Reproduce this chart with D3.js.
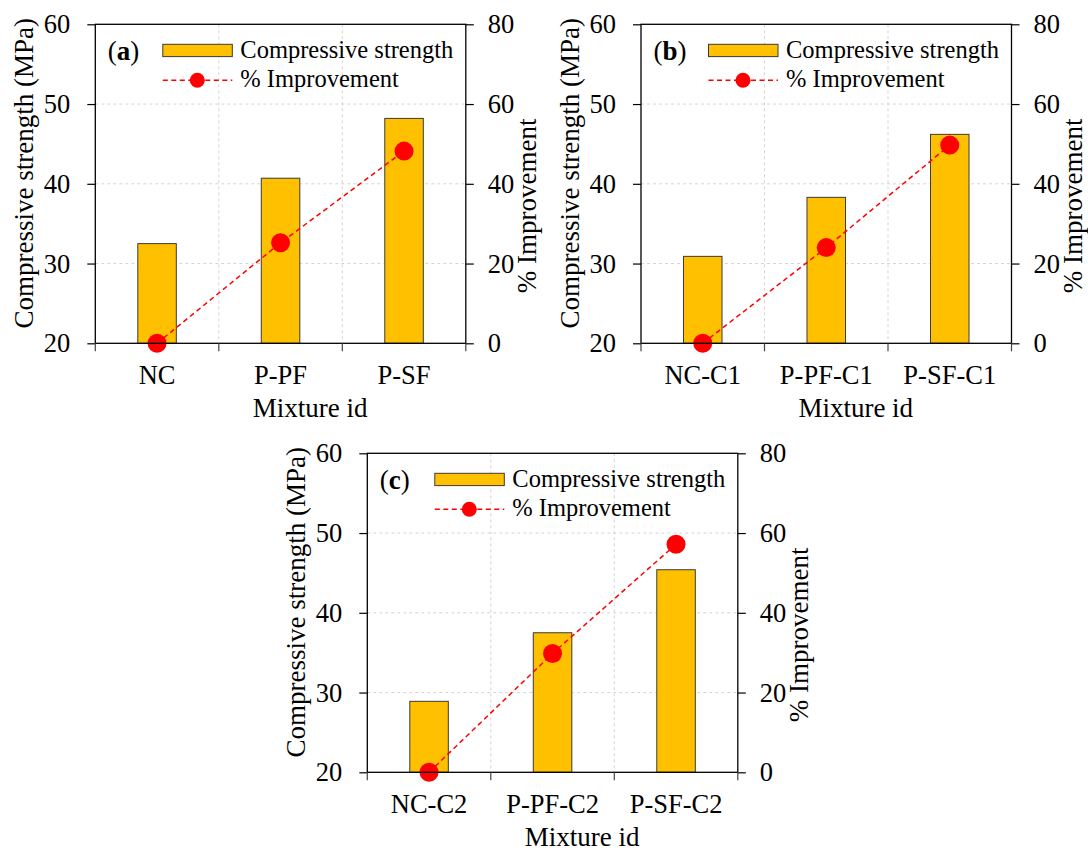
<!DOCTYPE html>
<html>
<head>
<meta charset="utf-8">
<script src="https://cdn.jsdelivr.net/npm/d3@7/dist/d3.min.js"></script>
<style>
  html, body { margin: 0; padding: 0; background: #ffffff; }
  svg { display: block; }
  svg text { font-family: 'Liberation Serif', 'Times New Roman', Times, serif; fill: #000; }
</style>
</head>
<body>
<svg id="chart" width="1088" height="852" font-family="Liberation Serif, Times New Roman, serif"></svg>
<script>
// ---- data ----
const categoriesA = ["NC", "P-PF", "P-SF"];
const strengthA = [32.5, 40.7, 48.2];
const improvementA = [0, 25.2, 48.2];

const categoriesB = ["NC-C1", "P-PF-C1", "P-SF-C1"];
const strengthB = [30.9, 38.3, 46.2];
const improvementB = [0, 24.0, 49.7];

const categoriesC = ["NC-C2", "P-PF-C2", "P-SF-C2"];
const strengthC = [28.9, 37.5, 45.4];
const improvementC = [0, 29.8, 57.2];

const strengthTicks = [20, 30, 40, 50, 60];
const improvementTicks = [0, 20, 40, 60, 80];
const panelTags = ["a", "b", "c"];

const leftTitle = "Compressive strength (MPa)";
const rightTitle = "% Improvement";
const xTitle = "Mixture id";
const legendBar = "Compressive strength";
const legendLine = "% Improvement";

// ---- layout & style ----
const W = 370.5, H = 319;
const panelOrigins = [
  { left: 95.3, top: 24.3 },
  { left: 641, top: 24.3 },
  { left: 367.3, top: 453.3 }
];
const SERIF = "Liberation Serif, Times New Roman, serif";
const BAR_FILL = "#FFC000";
const BAR_STROKE = "#3a3a3a";
const RED = "#FF0000";
const GRID = "#d4d4d4";
const TICK_FONT = 26.5;
const TITLE_FONT = 27;
const LEGEND_FONT = 24.5;

const svg = d3.select("#chart");
svg.append("rect").attr("width", 1088).attr("height", 852).attr("fill", "#fff");

function drawPanel(origin, categories, strength, improvement, tag) {
  const g = svg.append("g")
    .attr("transform", `translate(${origin.left},${origin.top})`)
    .attr("font-family", SERIF);

  const x = d3.scaleBand().domain(categories).range([0, W]).padding(0);
  const yL = d3.scaleLinear().domain([20, 60]).range([H, 0]);
  const yR = d3.scaleLinear().domain([0, 80]).range([H, 0]);
  const boundaries = d3.range(categories.length + 1).map(i => x.range()[0] + i * x.step());

  // dashed grid
  g.append("g").selectAll("line")
    .data(strengthTicks.slice(1, -1))
    .join("line")
    .attr("x1", 0).attr("x2", W)
    .attr("y1", d => yL(d)).attr("y2", d => yL(d))
    .attr("stroke", GRID).attr("stroke-width", 1).attr("stroke-dasharray", "3,3");
  g.append("g").selectAll("line")
    .data(boundaries.slice(1, -1))
    .join("line")
    .attr("x1", d => d).attr("x2", d => d)
    .attr("y1", 0).attr("y2", H)
    .attr("stroke", GRID).attr("stroke-width", 1).attr("stroke-dasharray", "3,3");

  // bars
  const barW = x.bandwidth() * 0.312;
  g.append("g").selectAll("rect")
    .data(categories.map((c, i) => ({ c, v: strength[i] })))
    .join("rect")
    .attr("x", d => x(d.c) + x.bandwidth() / 2 - barW / 2)
    .attr("width", barW)
    .attr("y", d => yL(d.v))
    .attr("height", d => yL(20) - yL(d.v))
    .attr("fill", BAR_FILL)
    .attr("stroke", BAR_STROKE)
    .attr("stroke-width", 1);

  // improvement line + markers
  const pts = categories.map((c, i) => [x(c) + x.bandwidth() / 2, yR(improvement[i])]);
  g.append("path")
    .attr("d", d3.line()(pts))
    .attr("fill", "none")
    .attr("stroke", RED)
    .attr("stroke-width", 1.5)
    .attr("stroke-dasharray", "5,3.5");
  g.append("g").selectAll("circle")
    .data(pts)
    .join("circle")
    .attr("cx", d => d[0]).attr("cy", d => d[1])
    .attr("r", 9.5)
    .attr("fill", RED);

  // frame
  g.append("rect")
    .attr("x", 0).attr("y", 0).attr("width", W).attr("height", H)
    .attr("fill", "none").attr("stroke", "#000").attr("stroke-width", 1.3);

  // left axis
  const axL = g.append("g").call(
    d3.axisLeft(yL).tickValues(strengthTicks).tickSize(8).tickSizeOuter(0).tickPadding(17)
  );
  axL.attr("font-family", SERIF).attr("font-size", TICK_FONT);
  axL.select(".domain").remove();
  axL.selectAll(".tick line").attr("stroke", "#000").attr("stroke-width", 1.2);
  axL.selectAll(".tick text").attr("fill", "#000");

  // right axis
  const axR = g.append("g").attr("transform", `translate(${W},0)`).call(
    d3.axisRight(yR).tickValues(improvementTicks).tickSize(8).tickSizeOuter(0).tickPadding(14)
  );
  axR.attr("font-family", SERIF).attr("font-size", TICK_FONT);
  axR.select(".domain").remove();
  axR.selectAll(".tick line").attr("stroke", "#000").attr("stroke-width", 1.2);
  axR.selectAll(".tick text").attr("fill", "#000");

  // bottom axis: ticks at category boundaries, labels at centres
  g.append("g").selectAll("line")
    .data(boundaries)
    .join("line")
    .attr("x1", d => d).attr("x2", d => d)
    .attr("y1", H).attr("y2", H + 8)
    .attr("stroke", "#444").attr("stroke-width", 1.2);
  const axB = g.append("g").attr("transform", `translate(0,${H})`).call(
    d3.axisBottom(x).tickSize(0).tickPadding(0)
  );
  axB.attr("font-family", SERIF).attr("font-size", TICK_FONT);
  axB.select(".domain").remove();
  axB.selectAll(".tick text")
    .attr("fill", "#000")
    .attr("y", 40.5).attr("dy", 0);

  // axis titles
  g.append("text")
    .attr("transform", `translate(-62,${149}) rotate(-90)`)
    .attr("text-anchor", "middle")
    .attr("font-size", TITLE_FONT)
    .text(leftTitle);
  g.append("text")
    .attr("transform", `translate(${W + 70.5},${181.5}) rotate(-90)`)
    .attr("text-anchor", "middle")
    .attr("font-size", TITLE_FONT)
    .text(rightTitle);
  g.append("text")
    .attr("x", W / 2 + 29.5).attr("y", H + 73.8)
    .attr("text-anchor", "middle")
    .attr("font-size", TITLE_FONT)
    .text(xTitle);

  // panel tag
  const tagText = g.append("text").attr("x", 12.4).attr("y", 36).attr("font-size", TITLE_FONT);
  tagText.append("tspan").text("(");
  tagText.append("tspan").attr("font-weight", "bold").text(tag);
  tagText.append("tspan").text(")");

  // legend
  const lg = g.append("g");
  lg.append("rect")
    .attr("x", 67.5).attr("y", 20).attr("width", 69.5).attr("height", 12.3)
    .attr("fill", BAR_FILL).attr("stroke", BAR_STROKE).attr("stroke-width", 1);
  lg.append("text").attr("x", 145).attr("y", 34).attr("font-size", LEGEND_FONT).text(legendBar);
  lg.append("line")
    .attr("x1", 67.5).attr("x2", 137).attr("y1", 56).attr("y2", 56)
    .attr("stroke", RED).attr("stroke-width", 1.5).attr("stroke-dasharray", "5,3.5");
  lg.append("circle").attr("cx", 102).attr("cy", 56).attr("r", 7.5).attr("fill", RED);
  lg.append("text").attr("x", 145).attr("y", 62.5).attr("font-size", LEGEND_FONT).text(legendLine);
}

drawPanel(panelOrigins[0], categoriesA, strengthA, improvementA, panelTags[0]);
drawPanel(panelOrigins[1], categoriesB, strengthB, improvementB, panelTags[1]);
drawPanel(panelOrigins[2], categoriesC, strengthC, improvementC, panelTags[2]);
</script>
</body>
</html>
